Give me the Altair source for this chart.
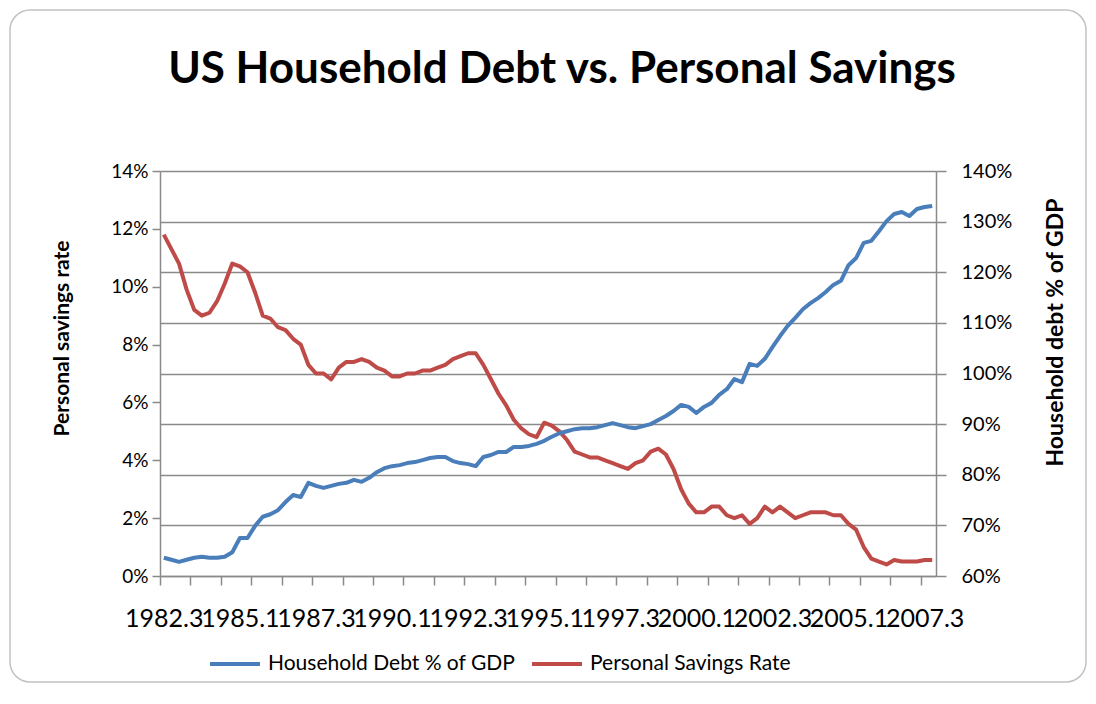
import altair as alt
import pandas as pd

TITLE = "US Household Debt vs. Personal Savings"
SERIES_DEBT = "Household Debt % of GDP"
SERIES_SAVE = "Personal Savings Rate"
LEFT_TITLE = "Personal savings rate"
RIGHT_TITLE = "Household debt % of GDP"

# category axis labels shown every 10 quarters (first quarter = 1982.3)
TICK_LABELS = ["1982.3", "1985.1", "1987.3", "1990.1", "1992.3", "1995.1",
               "1997.3", "2000.1", "2002.3", "2005.1", "2007.3"]

# Household debt, % of GDP (right axis), quarterly 1982.3 .. 2007.4
DEBT = [63.6, 63.2, 62.8, 63.2, 63.6, 63.8, 63.6, 63.6, 63.8, 64.7,
        67.5, 67.5, 69.9, 71.7, 72.2, 73.0, 74.6, 76.0, 75.6, 78.4,
        77.8, 77.4, 77.8, 78.2, 78.4, 79.0, 78.6, 79.4, 80.5, 81.3,
        81.7, 81.9, 82.3, 82.5, 82.9, 83.3, 83.5, 83.5, 82.7, 82.3,
        82.1, 81.7, 83.5, 83.9, 84.5, 84.5, 85.5, 85.5, 85.7, 86.1,
        86.7, 87.5, 88.2, 88.6, 89.0, 89.2, 89.2, 89.4, 89.8, 90.2,
        89.8, 89.4, 89.2, 89.6, 90.0, 90.8, 91.6, 92.6, 93.8, 93.4,
        92.2, 93.4, 94.2, 95.8, 96.9, 98.9, 98.3, 101.9, 101.5, 102.9,
        105.2, 107.4, 109.4, 111.0, 112.7, 113.9, 114.9, 116.1, 117.5, 118.3,
        121.4, 122.8, 125.8, 126.2, 128.1, 130.1, 131.5, 131.9, 131.1, 132.5,
        132.9, 133.1]

# Personal savings rate, % (left axis)
SAVINGS = [11.8, 11.3, 10.8, 9.9, 9.2, 9.0, 9.1, 9.5, 10.1, 10.8,
           10.7, 10.5, 9.8, 9.0, 8.9, 8.6, 8.5, 8.2, 8.0, 7.3,
           7.0, 7.0, 6.8, 7.2, 7.4, 7.4, 7.5, 7.4, 7.2, 7.1,
           6.9, 6.9, 7.0, 7.0, 7.1, 7.1, 7.2, 7.3, 7.5, 7.6,
           7.7, 7.7, 7.3, 6.8, 6.3, 5.9, 5.4, 5.1, 4.9, 4.8,
           5.3, 5.2, 5.0, 4.7, 4.3, 4.2, 4.1, 4.1, 4.0, 3.9,
           3.8, 3.7, 3.9, 4.0, 4.3, 4.4, 4.2, 3.7, 3.0, 2.5,
           2.2, 2.2, 2.4, 2.4, 2.1, 2.0, 2.1, 1.8, 2.0, 2.4,
           2.2, 2.4, 2.2, 2.0, 2.1, 2.2, 2.2, 2.2, 2.1, 2.1,
           1.8, 1.6, 1.0, 0.6, 0.5, 0.4, 0.55, 0.5, 0.5, 0.5,
           0.55, 0.55]

LEFT_TICKS = [0, 2, 4, 6, 8, 10, 12, 14]
RIGHT_TICKS = [60, 70, 80, 90, 100, 110, 120, 130, 140]

df = pd.DataFrame({"i": list(range(len(DEBT))), "debt": DEBT, "savings": SAVINGS})
n = len(DEBT)

FONT = "Lato"
BLUE = "#4A7EBB"
RED = "#BE4B48"
GRAY = "#8a8a8a"

label_js = "[" + ",".join("'%s'" % t for t in TICK_LABELS) + "]"
x_values = [-0.5 + 4 * k for k in range(26)] + [10 * j for j in range(len(TICK_LABELS))]

x_enc = alt.X(
    "i:Q",
    scale=alt.Scale(domain=[-0.5, n - 0.5], nice=False, zero=False),
    axis=alt.Axis(
        values=x_values, title=None, grid=False,
        labelExpr="datum.value % 1 == 0 ? " + label_js + "[datum.value / 10] : ''",
        labelOverlap=False, labelFlush=False,
        tickOpacity={"condition": {"test": "datum.value % 1 == 0", "value": 0}, "value": 1},
        tickSize=9, tickColor=GRAY, tickWidth=1.5,
        domainColor=GRAY, domainWidth=1.5,
        labelPadding=21, labelFontSize=25, labelFont=FONT, labelColor="#000",
    ),
)

color_scale = alt.Scale(domain=[SERIES_DEBT, SERIES_SAVE], range=[BLUE, RED])
legend = alt.Legend(
    orient="none", legendX=48, legendY=466, direction="horizontal", title=None,
    symbolType="stroke", symbolSize=2500, symbolStrokeWidth=4,
    labelFont=FONT, labelFontSize=21, labelColor="#000", labelLimit=500,
    columnPadding=8, labelOffset=6, padding=0,
)
color_enc = alt.Color("series:N", scale=color_scale, legend=legend)

border = alt.Chart(pd.DataFrame({"a": [0]})).mark_rect(
    filled=False, stroke="#c2c2c2", strokeWidth=1.5, cornerRadius=20
).encode(
    x=alt.value(-150), x2=alt.value(926), y=alt.value(-161), y2=alt.value(511)
)

save_line = alt.Chart(df).transform_calculate(
    series="'" + SERIES_SAVE + "'"
).mark_line(strokeWidth=4, strokeJoin="round").encode(
    x=x_enc,
    y=alt.Y(
        "savings:Q",
        scale=alt.Scale(domain=[0, 14], nice=False, zero=True),
        axis=alt.Axis(
            orient="left", values=LEFT_TICKS, labelExpr="datum.value + '%'",
            grid=False, title=LEFT_TITLE,
            titleX=-92, titleY=167, titleAngle=270, titleAlign="center",
            titleBaseline="alphabetic", titleFont=FONT, titleFontSize=21,
            titleFontWeight="bold", titleColor="#000",
            tickSize=8, tickColor=GRAY, tickWidth=1.5,
            domainColor=GRAY, domainWidth=1.5,
            labelPadding=4, labelFont=FONT, labelFontSize=19, labelColor="#000",
        ),
    ),
    color=color_enc,
)

debt_line = alt.Chart(df).transform_calculate(
    series="'" + SERIES_DEBT + "'"
).mark_line(strokeWidth=4, strokeJoin="round").encode(
    x=x_enc,
    y=alt.Y(
        "debt:Q",
        scale=alt.Scale(domain=[60, 140], nice=False, zero=False),
        axis=alt.Axis(
            orient="right", values=RIGHT_TICKS, labelExpr="datum.value + '%'",
            grid=True, gridColor=GRAY, gridWidth=1.3, title=RIGHT_TITLE,
            titleX=126, titleY=161, titleAngle=270, titleAlign="center",
            titleBaseline="alphabetic", titleFont=FONT, titleFontSize=23,
            titleFontWeight="bold", titleColor="#000",
            tickSize=10, tickColor=GRAY, tickWidth=1.5,
            domainColor=GRAY, domainWidth=1.5,
            labelPadding=15, labelFont=FONT, labelFontSize=20, labelColor="#000",
        ),
    ),
    color=color_enc,
)

chart = alt.layer(border, save_line, debt_line).resolve_scale(
    y="independent"
).properties(
    width=776, height=405,
    title=alt.TitleParams(
        TITLE, font=FONT, fontSize=44, fontWeight="bold", color="#000",
        anchor="middle", frame="group", baseline="alphabetic", offset=-118, dx=14,
    ),
    autosize=alt.AutoSizeParams(type="none"),
    padding={"left": 152, "top": 163, "right": 152, "bottom": 108},
).configure_view(stroke=None).configure(background="white")

chart.save("out.html", embed_options={"renderer": "svg", "actions": False})
